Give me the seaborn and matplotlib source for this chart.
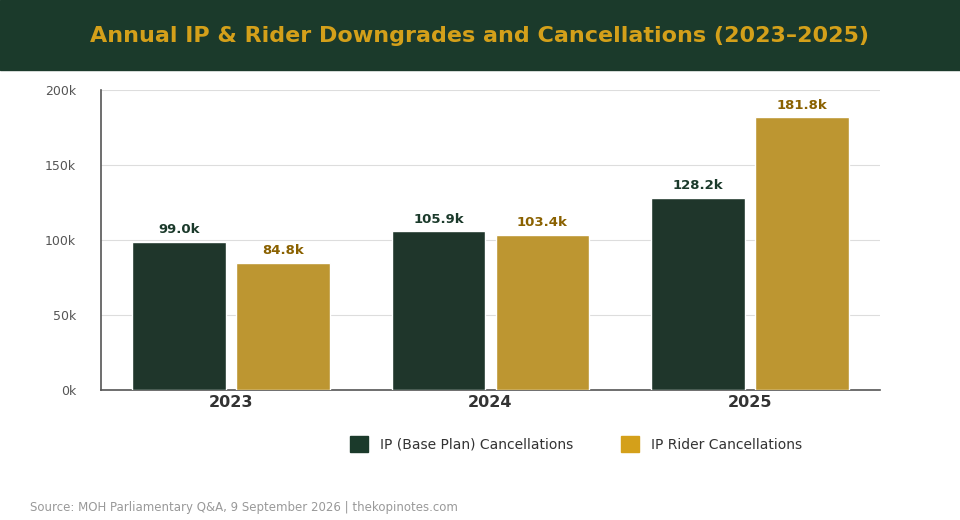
import pandas as pd
import seaborn as sns
import matplotlib.pyplot as plt
from matplotlib.patches import Patch

years = ['2023', '2024', '2025']
ip_base = [99.0, 105.9, 128.2]
ip_rider = [84.8, 103.4, 181.8]
series = ['IP (Base Plan) Cancellations', 'IP Rider Cancellations']
colors = ['#1b3a2b', '#d4a01a']
label_colors = ['#1b3a2b', '#8a6100']

df = pd.DataFrame({
    'year': years * 2,
    'value': ip_base + ip_rider,
    'series': [series[0]] * 3 + [series[1]] * 3,
})

sns.set_style('white')
plt.rcParams['font.family'] = ['DejaVu Sans']

fig = plt.figure(figsize=(9.6, 5.2), dpi=100)
fig.patches.append(plt.Rectangle((0, 70 / 520 * -1 + 1), 1, 70 / 520, transform=fig.transFigure,
                                 color='#1b3a2b', zorder=0))
fig.text(0.5, 1 - 36 / 520, 'Annual IP & Rider Downgrades and Cancellations (2023\u20132025)',
         ha='center', va='center', color='#d4a01a', fontsize=16, fontweight='bold')

ax = fig.add_axes([101 / 960, 130 / 520, 779 / 960, 300 / 520])
sns.barplot(data=df, x='year', y='value', hue='series', palette=colors, gap=0.1,
            width=0.8, ax=ax, legend=False, zorder=3)
ax.set_xlim(-0.5, 2.5)
ax.set_ylim(0, 200)
ax.set_yticks([0, 50, 100, 150, 200])
ax.set_yticklabels([f'{t}k' for t in [0, 50, 100, 150, 200]], color='#555555', fontsize=9)
ax.tick_params(axis='y', length=0, pad=18)
ax.tick_params(axis='x', length=0, labelsize=11.5)
for lab in ax.get_xticklabels():
    lab.set_fontweight('bold')
    lab.set_color('#333333')
ax.set_xlabel('')
ax.set_ylabel('')
ax.grid(axis='y', color='#dddddd', linewidth=0.8, zorder=0)
for s in ['top', 'right']:
    ax.spines[s].set_visible(False)
for s in ['left', 'bottom']:
    ax.spines[s].set_color('#555555')
    ax.spines[s].set_linewidth(1.2)

for container, lc in zip(ax.containers, label_colors):
    ax.bar_label(container, labels=[f'{v:.1f}k' for v in container.datavalues],
                 padding=4, color=lc, fontsize=9.5, fontweight='bold')

handles = [Patch(color=c, label=l) for c, l in zip(colors, series)]
fig.legend(handles=handles, loc='center', bbox_to_anchor=(0.6, 1 - 444 / 520), ncol=2,
           frameon=False, fontsize=10, handlelength=1.3, handleheight=1.3, columnspacing=3.5,
           labelcolor='#333333')

fig.text(30 / 960, 1 - 508 / 520, 'Source: MOH Parliamentary Q&A, 9 September 2026 | thekopinotes.com',
         color='#999999', fontsize=8.5, va='center')

plt.savefig('out.png', dpi=100)
